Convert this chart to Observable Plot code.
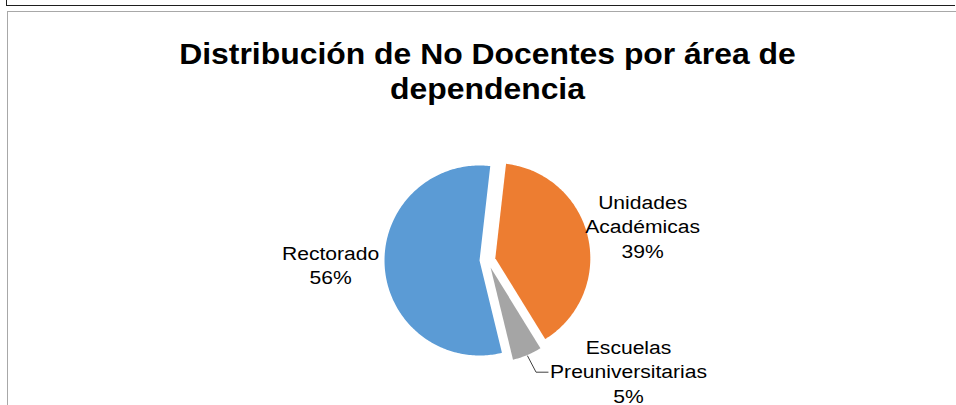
<!DOCTYPE html>
<html>
<head>
<meta charset="utf-8">
<script src="https://cdn.jsdelivr.net/npm/d3@7"></script>
<script src="https://cdn.jsdelivr.net/npm/@observablehq/plot@0.6"></script>
<style>
  html, body { margin: 0; padding: 0; background: #fff; width: 956px; height: 405px; overflow: hidden; }
  #wrap { position: relative; width: 956px; height: 405px; overflow: hidden; }
  #chart { position: absolute; left: 0; top: 0; }
  .prev { position: absolute; left: 6px; top: -21px; width: 948px; height: 26px; border-style: solid; border-color: #1e1e1e; border-width: 0 0 1.5px 1.5px; pointer-events: none; }
  .box { position: absolute; left: 6.5px; top: 11.3px; width: 948px; height: 500px; border-style: solid; border-color: #a8a8a8; border-width: 1.4px 0 0 1.4px; pointer-events: none; }
</style>
</head>
<body>
<div id="wrap">
  <div id="chart"></div>
  <div class="prev"></div>
  <div class="box"></div>
</div>
<script>
// ---- data ----
const titleText = "Distribución de No Docentes por área de\ndependencia";
const categories = ["Unidades Académicas", "Escuelas Preuniversitarias", "Rectorado"];
const categoryLines = [["Unidades", "Académicas"], ["Escuelas", "Preuniversitarias"], ["Rectorado"]];
const values = [39.4, 5.0, 55.6];
const percentLabels = ["39%", "5%", "56%"];
const colors = ["#ED7D31", "#A5A5A5", "#5B9BD5"];

// ---- layout ----
const W = 956, H = 405;
const cx = 487, cy = 259.5;    // pie centre in pixels
const R = 95, D = 8;           // radius and explosion
const startDeg = 6.5;
const rad = Math.PI / 180;

const arcs = d3.pie().sort(null).value(d => d)
  .startAngle(startDeg * rad).endAngle(startDeg * rad + 2 * Math.PI)(values);

// polygons (y-up coordinates, angle clockwise from 12 o'clock)
const pts = [];
arcs.forEach((a, i) => {
  const mid = (a.startAngle + a.endAngle) / 2;
  const ox = D * Math.sin(mid), oy = D * Math.cos(mid);
  const name = categories[i];
  pts.push({name, x: ox, y: oy});
  const n = Math.max(8, Math.ceil((a.endAngle - a.startAngle) / rad));
  for (let k = 0; k <= n; k++) {
    const t = a.startAngle + (a.endAngle - a.startAngle) * k / n;
    pts.push({name, x: ox + R * Math.sin(t), y: oy + R * Math.cos(t)});
  }
  pts.push({name, x: ox, y: oy});
});

// labels (outside end; the small slice's label is moved out with a leader line)
const labels = arcs.map((a, i) => {
  const mid = (a.startAngle + a.endAngle) / 2;
  let ang = mid, dist = 159;
  if (i === 2) { ang = mid + 2 * rad; dist = 157; }
  if (i === 1) { ang = 128 * rad; dist = 179; }
  return {
    x: dist * Math.sin(ang),
    y: dist * Math.cos(ang),
    text: categoryLines[i].concat([percentLabels[i]]).join("\n")
  };
});

// leader line for the small slice
const g = arcs[1];
const gmid = (g.startAngle + g.endAngle) / 2;
const lbl = labels[1];
const endX = lbl.x - 80.5, endY = lbl.y - 2;
const leader = [
  {x: (R + D + 1) * Math.sin(gmid), y: (R + D + 1) * Math.cos(gmid)},
  {x: endX - 12, y: endY},
  {x: endX, y: endY}
];

const plot = Plot.plot({
  width: W,
  height: H,
  margin: 0,
  x: {domain: [-cx, W - cx], axis: null},
  y: {domain: [cy - H, cy], axis: null},
  color: {domain: categories, range: colors},
  style: {background: "transparent"},
  marks: [
    Plot.line(pts, {x: "x", y: "y", z: "name", fill: "name", stroke: "none", curve: "linear"}),
    Plot.line(leader, {x: "x", y: "y", stroke: "#404040", strokeWidth: 1}),
    Plot.text([titleText], {
      x: () => 0, frameAnchor: "top", dy: 70, text: d => d,
      fontFamily: "Liberation Sans, Arial, sans-serif", fontSize: 29, fontWeight: "bold",
      fill: "#000", lineHeight: 1.2, lineAnchor: "middle", textAnchor: "middle"
    }),
    Plot.text(labels, {
      x: "x", y: "y", text: "text",
      fontFamily: "Liberation Sans, Arial, sans-serif", fontSize: 19,
      fill: "#000", lineHeight: 1.29, lineAnchor: "middle", textAnchor: "middle"
    })
  ]
});

// horizontal widening of the glyphs, as in the reference rendering
function widen(group, s) {
  d3.select(group).selectAll("text").each(function () {
    const t = this.getAttribute("transform");
    if (t) {
      this.setAttribute("transform", t + ` scale(${s},1)`);
    } else {
      const x = +this.getAttribute("x") || 0;
      this.setAttribute("transform", `translate(${x},0) scale(${s},1) translate(${-x},0)`);
    }
  });
}
const textGroups = d3.select(plot).selectAll('g[aria-label="text"]').nodes();
if (textGroups[0]) widen(textGroups[0], 1.1);
if (textGroups[1]) widen(textGroups[1], 1.11);

document.getElementById("chart").appendChild(plot);
</script>
</body>
</html>
